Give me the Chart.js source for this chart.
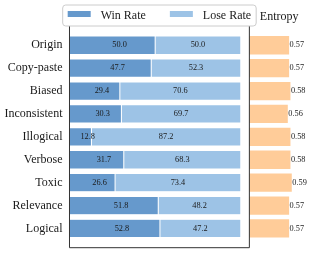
<!doctype html>
<html lang="en">
<head>
<meta charset="utf-8">
<title>Win / Lose Rate and Entropy</title>
<style>
  html,body{margin:0;padding:0;background:#fff}
  .wrap{width:314px;height:253px}
</style>
</head>
<body>
<div class="wrap"><canvas id="chart" width="314" height="253"></canvas></div>
<script src="https://cdn.jsdelivr.net/npm/chart.js@4.4.1/dist/chart.umd.min.js"></script>
<script>
const categories = ['Origin','Copy-paste','Biased','Inconsistent','Illogical','Verbose','Toxic','Relevance','Logical'];
const winRate  = [50.0, 47.7, 29.4, 30.3, 12.8, 31.7, 26.6, 51.8, 52.8];
const loseRate = [50.0, 52.3, 70.6, 69.7, 87.2, 68.3, 73.4, 48.2, 47.2];
const entropy  = [0.57, 0.57, 0.58, 0.56, 0.58, 0.58, 0.59, 0.57, 0.57];
const rateRange = [0, 105];
const entropyRange = [0.27, 0.72];

(function(){
  const SERIF = '"Liberation Serif", "Times New Roman", serif';
  const COL = { win:'#6699cc', lose:'#9dc3e6', ent:'#ffcc99', text:'#1a1a1a', spine:'#333' };
  const pts = arr => arr.map((v,i)=>({ y:i, x:v }));
  const noGrid = { display:false, drawTicks:false, tickLength:0 };

  // value labels, frame, legend, side title
  const extras = {
    id: 'extras',
    afterDatasetsDraw(chart){
      const c = chart.ctx;
      c.save();
      c.font = '8.3px ' + SERIF;
      c.fillStyle = COL.text;
      c.textBaseline = 'middle';
      chart.data.datasets.forEach((ds, di)=>{
        chart.getDatasetMeta(di).data.forEach((bar, i)=>{
          const v = ds.data[i].x;
          if (ds.kind === 'ent') {
            c.textAlign = 'left';
            c.fillText(v.toFixed(2), bar.x + 0.5, bar.y);
          } else {
            c.textAlign = ds.kind === 'win' ? 'left' : 'center';
            c.fillText(v.toFixed(1), (bar.x + bar.base)/2, bar.y);
          }
        });
      });
      c.restore();
    },
    afterDraw(chart){
      const c = chart.ctx, a = chart.chartArea, xs = chart.scales.x, x2 = chart.scales.x2;
      c.save();
      c.strokeStyle = COL.spine; c.lineWidth = 1;
      c.beginPath();
      c.moveTo(xs.left, a.top); c.lineTo(xs.left, a.bottom);
      c.lineTo(xs.right, a.bottom); c.lineTo(xs.right, a.top);
      c.stroke();

      // legend box
      c.font = '12px ' + SERIF;
      const items = chart.data.datasets.filter(d=>d.kind !== 'ent');
      const sw = 23, gap = 10, sep = 24, pad = 5;
      const widths = items.map(d=>c.measureText(d.label).width);
      const total = pad*2 + items.length*(sw+gap) + widths.reduce((s,w)=>s+w,0) + sep*(items.length-1);
      const cx = (xs.left + xs.right)/2;
      const bx = cx - total/2, by = a.top - 21, bh = 21;
      c.fillStyle = 'rgba(255,255,255,0.9)';
      c.strokeStyle = '#cccccc';
      c.beginPath(); c.roundRect(bx, by, total, bh, 3); c.fill(); c.stroke();
      let x = bx + pad;
      items.forEach((d,i)=>{
        c.fillStyle = d.backgroundColor;
        c.fillRect(x, by + 6, sw, 6);
        x += sw + gap;
        c.fillStyle = COL.text;
        c.textAlign = 'left'; c.textBaseline = 'alphabetic';
        c.fillText(d.label, x, by + 13.5);
        x += widths[i] + sep;
      });

      c.fillStyle = COL.text;
      c.textAlign = 'center'; c.textBaseline = 'alphabetic';
      c.fillText('Entropy', (x2.left + x2.right)/2, a.top - 6);
      c.restore();
    }
  };

  const common = { barPercentage:0.8, categoryPercentage:1.0, stack:'s', borderColor:'#ffffff', borderWidth:0.5, borderSkipped:false };
  new Chart(document.getElementById('chart'), {
    type: 'bar',
    data: {
      datasets: [
        { ...common, kind:'win',  label:'Win Rate',  data: pts(winRate),  backgroundColor: COL.win,  xAxisID:'x' },
        { ...common, kind:'lose', label:'Lose Rate', data: pts(loseRate), backgroundColor: COL.lose, xAxisID:'x' },
        { ...common, kind:'ent',  label:'Entropy',   data: pts(entropy),  backgroundColor: COL.ent,  xAxisID:'x2', borderWidth:0 }
      ]
    },
    options: {
      indexAxis: 'y',
      responsive: false,
      animation: false,
      layout: { padding: { top: 26, left: 4.5, right: 5, bottom: 5.3 } },
      plugins: { legend:{ display:false }, tooltip:{ enabled:false } },
      scales: {
        y: {
          type: 'linear', reverse: true, offset: false, stacked: true,
          min: -0.84, max: categories.length - 1 + 0.84,
          afterBuildTicks: s => { s.ticks = categories.map((_,i)=>({ value:i })); },
          ticks: { autoSkip:false, padding:0, color: COL.text, font:{ family: SERIF, size:12, lineHeight:0.4 }, callback: v => categories[v] },
          grid: { display:false, drawTicks:true, tickLength:7 },
          border: { display:false }
        },
        x: {
          type: 'linear', stacked: true, min: rateRange[0], max: rateRange[1],
          stack: 'bottom', stackWeight: 179.5,
          ticks: { display:false }, grid: noGrid, border: { display:false }
        },
        x2: {
          type: 'linear', position: 'bottom', min: entropyRange[0], max: entropyRange[1],
          stack: 'bottom', stackWeight: 59.5,
          ticks: { display:false }, grid: noGrid, border: { display:false }
        }
      }
    },
    plugins: [extras]
  });
})();
</script>
</body>
</html>
